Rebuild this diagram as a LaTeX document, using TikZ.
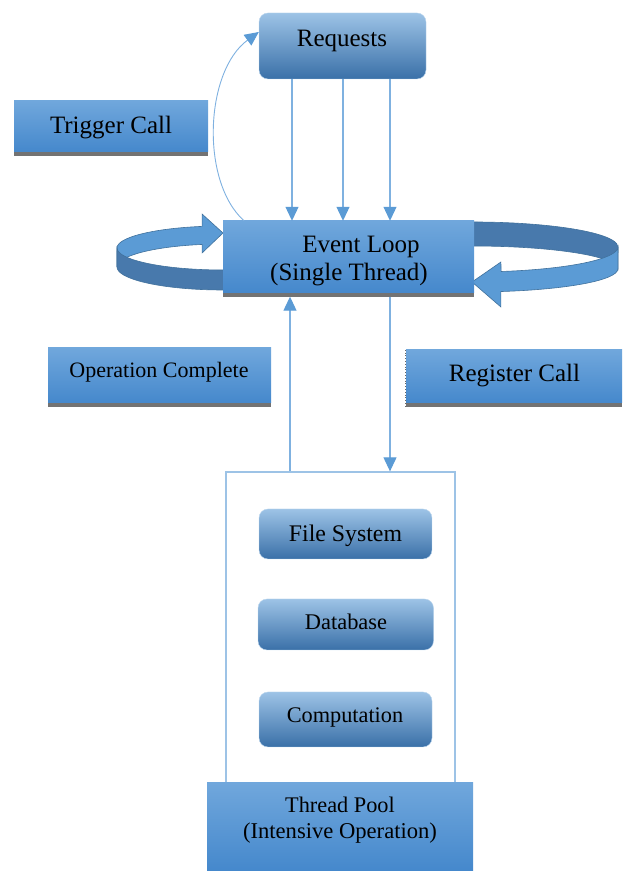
\documentclass[tikz,border=0pt]{standalone}
\usepackage{fontspec}
\setmainfont{Liberation Serif}
\usetikzlibrary{arrows.meta,calc}
\definecolor{flatT}{HTML}{70A7DC}
\definecolor{flatB}{HTML}{4588CC}
\definecolor{rT}{HTML}{9DC3E6}
\definecolor{rB}{HTML}{3A70A8}
\definecolor{lineC}{HTML}{7FB1E0}
\definecolor{headC}{HTML}{5B9BD5}
\definecolor{bandL}{HTML}{5B9BD5}
\definecolor{bandD}{HTML}{4879AC}
\definecolor{bandE}{HTML}{41719C}
\definecolor{contC}{HTML}{9DC3E6}
\tikzset{
  flat/.style={rectangle, inner sep=0pt, top color=flatT, bottom color=flatB, draw=none},
  rbox/.style={rectangle, rounded corners=9pt, inner sep=0pt, top color=rT, bottom color=rB, draw=rT!70!white, line width=0.4pt},
  lbl/.style={anchor=base, inner sep=0pt},
  arr/.style={draw=lineC, line width=1.1pt, -{Triangle[length=14pt,width=13pt,color=headC]}},
  shadowstrip/.style={fill=black!55, draw=none},
  band/.style={draw=bandE, line width=0.6pt},
}
\newcommand{\fs}[1]{\fontsize{#1}{#1}\selectfont}
\begin{document}
\begin{tikzpicture}[x=1pt,y=1pt]
\useasboundingbox (0,0) rectangle (622,871);

% ---- loop ribbons (drawn before the event loop box) ----
% left loop, back band (light) with head
\path[band, fill=bandL] (202.05,644.6) arc[start angle=101.4, end angle=180, x radius=106pt, y radius=22pt]
  -- (117,604) arc[start angle=180, end angle=101.4, x radius=106pt, y radius=23pt]
  -- (202.05,618) -- (223,638) -- (202.05,657) -- cycle;
% left loop, front band (dark)
\path[band, fill=bandD] (117,623) arc[start angle=180, end angle=280, x radius=106pt, y radius=22pt]
  -- (241.4,581.35) arc[start angle=280, end angle=180, x radius=106pt, y radius=23pt] -- cycle;
% right loop, back band (dark)
\path[band, fill=bandD] (466.9,649) arc[start angle=92, end angle=0, x radius=146pt, y radius=25pt]
  -- (618,602) arc[start angle=0, end angle=92, x radius=146pt, y radius=23pt] -- cycle;
% right loop, front band (light) with head
\path[band, fill=bandL] (618,624) arc[start angle=360, end angle=281.5, x radius=146pt, y radius=25pt]
  -- (500.9,609) -- (472,589) -- (500.9,564) -- (500.9,579.46)
  arc[start angle=281.5, end angle=360, x radius=146pt, y radius=23pt] -- cycle;

% ---- boxes ----
\node[rbox, minimum width=167pt, minimum height=66pt] (req) at (342.5,825) {};
\node[flat, minimum width=194pt, minimum height=51pt] (trig) at (111,744.5) {};
\node[flat, minimum width=251pt, minimum height=72pt] (ev) at (348.5,614) {};
\node[flat, minimum width=223pt, minimum height=55pt] (op) at (159.5,495.5) {};
\node[flat, minimum width=216pt, minimum height=53pt] (reg) at (514,494.5) {};
\node[draw=contC, line width=1.3pt, minimum width=229pt, minimum height=311pt, inner sep=0pt] (pool) at (340.5,243.5) {};
\node[rbox, minimum width=173pt, minimum height=50pt] (fsys) at (345.5,337) {};
\node[rbox, minimum width=175.5pt, minimum height=51pt] (db) at (345.75,246.5) {};
\node[rbox, minimum width=173pt, minimum height=55pt] (comp) at (345.5,151.5) {};
\node[flat, minimum width=266pt, minimum height=88pt] (tp) at (340,44) {};

% shadows
\fill[shadowstrip] (trig.south west) rectangle ([yshift=-3.5pt]trig.south east);
\fill[shadowstrip] (ev.south west) rectangle ([yshift=-3.5pt]ev.south east);
\fill[shadowstrip] (op.south west) rectangle ([yshift=-3.5pt]op.south east);
\fill[shadowstrip] (reg.south west) rectangle ([yshift=-3.5pt]reg.south east);
\draw[black!60, dotted, line width=0.8pt] (reg.north west) -- ([yshift=-3.5pt]reg.south west);

% ---- labels ----
\node[lbl, font=\fs{25}] (reqT) at (342,824) {Requests};
\node[lbl, font=\fs{25}] (trigT) at (111,737) {Trigger Call};
\node[lbl, font=\fs{25}] (evT1) at (361,618) {Event Loop};
\node[lbl, font=\fs{25}] (evT2) at (349,590) {(Single Thread)};
\node[lbl, font=\fs{22}] (opT) at (159,493) {Operation Complete};
\node[lbl, font=\fs{25}] (regT) at (514.5,489) {Register Call};
\node[lbl, font=\fs{23.8}] (fsT) at (345.5,329.3) {File System};
\node[lbl, font=\fs{22.4}] (dbT) at (346,241) {Database};
\node[lbl, font=\fs{22.3}] (compT) at (345,148) {Computation};
\node[lbl, font=\fs{22.3}] (tpT1) at (340,58.3) {Thread Pool};
\node[lbl, font=\fs{22.6}] (tpT2) at (340,32) {(Intensive Operation)};

% ---- connectors ----
\draw[arr] (req.south -| 292,0) -- (ev.north -| 292,0);
\draw[arr] (req.south -| 343,0) -- (ev.north -| 343,0);
\draw[arr] (req.south -| 390,0) -- (ev.north -| 390,0);
\draw[arr, line width=0.9pt] (ev.north -| 244,0) .. controls (200,690) and (205,800) .. (req.west |- 0,839);
\draw[arr] (pool.north -| 290,0) -- ([yshift=-3.5pt]ev.south -| 290,0);
\draw[arr] ([yshift=-3.5pt]ev.south -| 390,0) -- (pool.north -| 390,0);
\end{tikzpicture}
\end{document}
